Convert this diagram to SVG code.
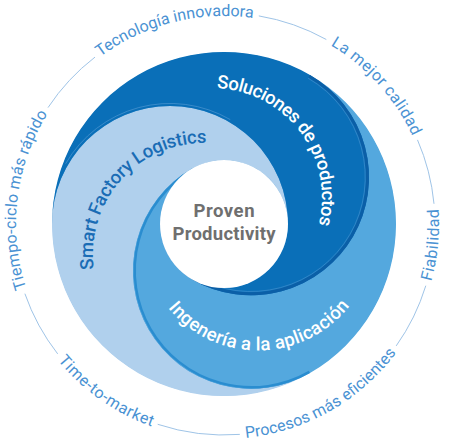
<svg xmlns="http://www.w3.org/2000/svg" width="450" height="445" viewBox="0 0 450 445">
<style>
.outer{font-family:Roboto,"Liberation Sans",sans-serif;font-size:16px;fill:#4a92d3}
.band{font-family:Roboto,"Liberation Sans",sans-serif;font-size:18.5px;font-weight:500}
.ring{fill:none;stroke:#9fc4e7;stroke-width:1}
.core{font-family:Roboto,"Liberation Sans",sans-serif;font-size:18.5px;font-weight:bold;fill:#6f6f6f;text-anchor:middle}
</style>
<defs>
<path id="tp-tec" d="M100.3,56.8 A208,208 0 0 1 252.9,18.0"/>
<path id="tp-cal" d="M330.5,45.3 A208,208 0 0 1 412.5,136.1"/>
<path id="tp-tie" d="M26.2,288.3 A208,208 0 0 1 47.6,113.8"/>
<path id="tp-fia" d="M431.2,281.5 A215,215 0 0 0 438.5,209.0"/>
<path id="tp-pro" d="M245.7,437.9 A215,215 0 0 0 396.2,352.8"/>
<path id="tp-tim" d="M57.9,360.5 A215,215 0 0 0 151.5,426.4"/>
<path id="tp-sol" d="M216.8,88.1 A110,110 0 0 1 318.7,224.6"/>
<path id="tp-sma" d="M94.0,269.1 A111,111 0 0 1 206.9,143.0"/>
<path id="tp-ing" d="M168.1,308.1 A116.5,116.5 0 0 0 350.8,304.4"/>
</defs>

<circle cx="224" cy="224" r="171.5" fill="#4f9ad6"/>

<g id="node-smart-factory">
<path d="M310,372.96 A172,172 0 0 1 52,224 A118,118 0 0 1 288,224 A64,64 0 0 0 192,168.57 A118,118 0 0 0 310,372.96 Z" fill="#b0d0ed"/>
<text class="band" fill="#1a6cb5"><textPath href="#tp-sma" textLength="192" lengthAdjust="spacing">Smart Factory Logistics</textPath></text>
</g>

<g id="node-ingenieria">
<path d="M310,75.04 A172,172 0 0 1 310,372.96 A118,118 0 0 1 192,168.57 A64,64 0 0 0 192,279.43 A118,118 0 0 0 310,75.04 Z" fill="#54a8de"/>
<path d="M192.6,169.6 A116.8,116.8 0 0 0 309.4,371.9" fill="none" stroke="#2a8dd0" stroke-width="2.4"/>
<text class="band" fill="#ffffff"><textPath href="#tp-ing" textLength="208" lengthAdjust="spacing">Ingenería a la aplicación</textPath></text>
</g>

<g id="node-soluciones">
<path d="M52,224 A172,172 0 0 1 310,75.04 A118,118 0 0 1 192,279.43 A64,64 0 0 0 288,224 A118,118 0 0 0 52,224 Z" fill="#0a6fb8"/>
<path d="M65.6,163.75 A120.5,120.5 0 0 1 230.25,119.6" fill="none" stroke="#5d9fd8" stroke-width="0.7" opacity="0.8"/>
<path d="M309.25,76.3 A116.5,116.5 0 0 1 192.75,278.1" fill="none" stroke="#0b5fa7" stroke-width="3"/>
<path d="M308.15,78.24 A114.3,114.3 0 0 1 193.85,276.22" fill="none" stroke="#4f97d3" stroke-width="0.7" opacity="0.8"/>
<text class="band" fill="#ffffff"><textPath href="#tp-sol" textLength="195" lengthAdjust="spacing">Soluciones de productos</textPath></text>
</g>

<g id="node-core">
<circle cx="224" cy="224" r="64" fill="#ffffff"/>
<text class="core" x="224" y="217" textLength="61" lengthAdjust="spacing">Proven</text>
<text class="core" x="224" y="240" textLength="103" lengthAdjust="spacing">Productivity</text>
</g>

<g id="connectors">
<path class="ring" d="M258.8,15.9 A211,211 0 0 1 326.3,39.5"/>
<path class="ring" d="M417.5,139.9 A211,211 0 0 1 434.0,203.8"/>
<path class="ring" d="M425.8,285.7 A211,211 0 0 1 396.2,345.9"/>
<path class="ring" d="M239.8,434.4 A211,211 0 0 1 157.7,424.3"/>
<path class="ring" d="M57.7,353.9 A211,211 0 0 1 24.9,293.7"/>
<path class="ring" d="M48.0,107.6 A211,211 0 0 1 95.0,57.1"/>
</g>

<g id="outer-labels">
<text class="outer"><textPath href="#tp-tec" textLength="161.6" lengthAdjust="spacing">Tecnología innovadora</textPath></text>
<text class="outer"><textPath href="#tp-cal" textLength="124.2" lengthAdjust="spacing">La mejor calidad</textPath></text>
<text class="outer"><textPath href="#tp-fia" textLength="73.2" lengthAdjust="spacing">Fiabilidad</textPath></text>
<text class="outer"><textPath href="#tp-pro" textLength="177.9" lengthAdjust="spacing">Procesos más eficientes</textPath></text>
<text class="outer"><textPath href="#tp-tim" textLength="116" lengthAdjust="spacing">Time-to-market</textPath></text>
<text class="outer"><textPath href="#tp-tie" textLength="181.5" lengthAdjust="spacing">Tiempo-ciclo más rápido</textPath></text>
</g>
</svg>
